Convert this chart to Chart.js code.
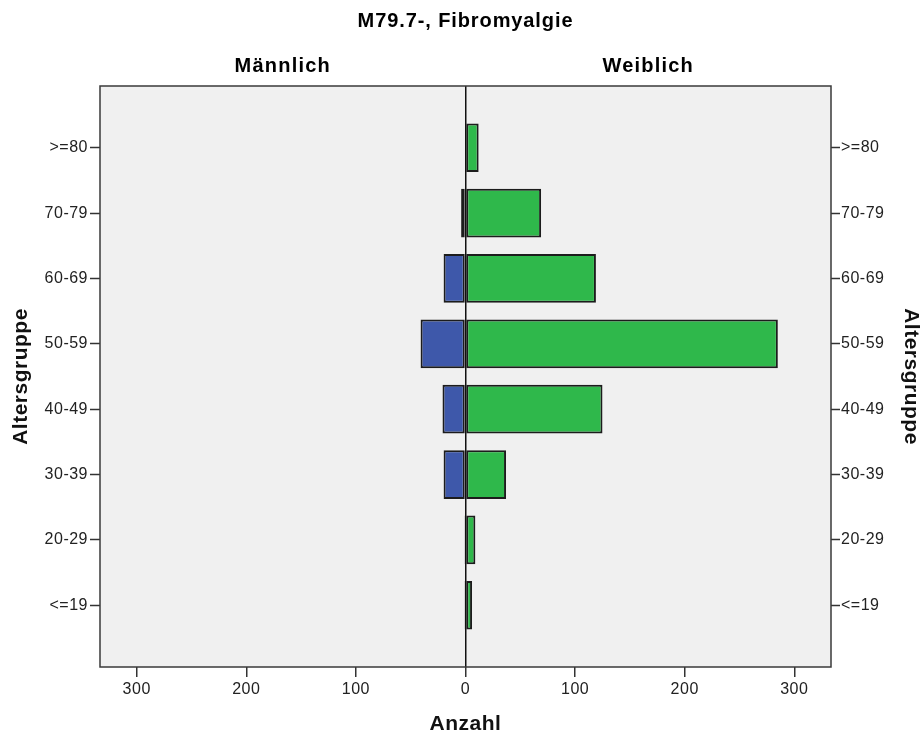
<!DOCTYPE html>
<html><head><meta charset="utf-8">
<script src="https://cdn.jsdelivr.net/npm/chart.js@4/dist/chart.umd.min.js"></script>
<style>html,body{margin:0;padding:0;background:#fff;}</style>
</head><body>
<canvas id="c" width="921" height="735"></canvas>
<script>
const chartTitle = 'M79.7-, Fibromyalgie';
const leftPanelTitle = 'Männlich';
const rightPanelTitle = 'Weiblich';
const yAxisTitle = 'Altersgruppe';
const xAxisTitle = 'Anzahl';
const ageGroups = ['<=19', '20-29', '30-39', '40-49', '50-59', '60-69', '70-79', '>=80'];
const maleCounts = [1, 1, 20, 21, 41, 20, 4, 0];
const femaleCounts = [6, 9, 37, 125, 285, 119, 69, 12];
const countTicks = [-300, -200, -100, 0, 100, 200, 300];

const FAMILY = '"Liberation Sans", Arial, sans-serif';
const tickFont = { family: FAMILY, size: 16 };
const axisTitleFont = { family: FAMILY, size: 21, weight: 'bold', lineHeight: 1 };

const framePlugin = {
  id: 'frame',
  beforeDraw(chart) {
    const ctx = chart.ctx, a = chart.chartArea;
    ctx.save();
    ctx.fillStyle = '#f0f0f0';
    ctx.fillRect(a.left, a.top, a.right - a.left, a.bottom - a.top);
    ctx.restore();
    ctx.letterSpacing = '0.5px';
  },
  afterDraw(chart) {
    const ctx = chart.ctx, a = chart.chartArea;
    const zero = chart.scales.x.getPixelForValue(0);
    ctx.save();
    ctx.strokeStyle = '#3a3a3a';
    ctx.lineWidth = 1.5;
    ctx.strokeRect(a.left, a.top, a.right - a.left, a.bottom - a.top);
    ctx.fillStyle = '#000';
    ctx.textAlign = 'center';
    ctx.textBaseline = 'middle';
    ctx.font = 'bold 20px ' + FAMILY;
    ctx.letterSpacing = '0.9px';
    ctx.fillText(chartTitle, (a.left + a.right) / 2, 21);
    ctx.font = 'bold 20px ' + FAMILY;
    ctx.letterSpacing = '1.2px';
    ctx.fillText(leftPanelTitle, (a.left + zero) / 2, 66);
    ctx.fillText(rightPanelTitle, (zero + a.right) / 2, 66);
    ctx.restore();
  }
};

const yScaleBase = (position) => ({
  type: 'linear',
  position,
  min: -0.945,
  max: 7.945,
  offset: false,
  afterBuildTicks: s => { s.ticks = ageGroups.map((_, i) => ({ value: i })); },
  ticks: { callback: v => ageGroups[v] ?? '', font: tickFont, color: '#222', padding: position === 'left' ? 2 : 1, autoSkip: false },
  grid: { offset: false, drawOnChartArea: false, tickColor: '#333', tickLength: position === 'left' ? 10 : 9, tickWidth: 1.5 },
  border: { display: false },
  title: { display: true, text: yAxisTitle, font: axisTitleFont, color: '#111', padding: { top: position === 'left' ? 11 : 0, bottom: 0 } },
  afterFit: s => { s.width = position === 'left' ? 100 : 90; }
});

new Chart(document.getElementById('c'), {
  type: 'bar',
  data: {
    datasets: [
      {
        label: leftPanelTitle,
        data: ageGroups.map((g, i) => ({ x: -maleCounts[i], y: i })),
        backgroundColor: '#3e58aa',
        borderColor: '#1c1c1c',
        borderWidth: 2,
        borderSkipped: false,
        grouped: false,
        barPercentage: 0.745,
        categoryPercentage: 1,
        xAxisID: 'x', yAxisID: 'y'
      },
      {
        label: rightPanelTitle,
        data: ageGroups.map((g, i) => ({ x: femaleCounts[i], y: i })),
        backgroundColor: '#2fb84b',
        borderColor: '#1c1c1c',
        borderWidth: 2,
        borderSkipped: false,
        grouped: false,
        barPercentage: 0.745,
        categoryPercentage: 1,
        xAxisID: 'x', yAxisID: 'y'
      }
    ]
  },
  options: {
    indexAxis: 'y',
    responsive: false,
    animation: false,
    devicePixelRatio: 1,
    layout: { padding: { top: 86, left: 0, right: 0, bottom: 0 } },
    plugins: { legend: { display: false }, tooltip: { enabled: false }, title: { display: false } },
    scales: {
      x: {
        type: 'linear',
        position: 'bottom',
        min: -333.5,
        max: 333.5,
        z: 1,
        afterBuildTicks: s => { s.ticks = countTicks.map(v => ({ value: v })); },
        ticks: { callback: v => String(Math.abs(v)), font: tickFont, color: '#222', padding: 3, maxRotation: 0, autoSkip: false },
        grid: {
          color: c => (c.tick && c.tick.value === 0) ? '#111' : 'rgba(0,0,0,0)',
          lineWidth: 1.5, tickColor: '#333', tickLength: 10, tickWidth: 1.5
        },
        border: { display: false },
        title: { display: true, text: xAxisTitle, font: axisTitleFont, color: '#111', padding: { top: 0, bottom: 0 } },
        afterFit: s => { s.height = 68; }
      },
      y: yScaleBase('left'),
      y2: yScaleBase('right')
    }
  },
  plugins: [framePlugin]
});
</script>
</body></html>
